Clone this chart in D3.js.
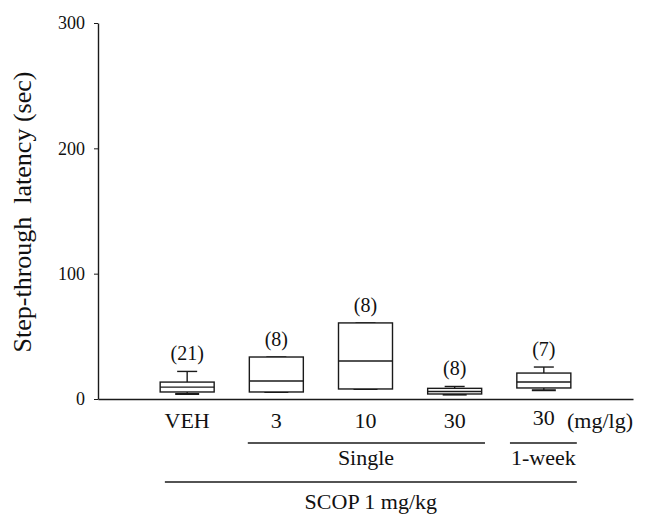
<!DOCTYPE html>
<html lang='en'>
<head>
  <meta charset='UTF-8'>
  <title>Step-through latency</title>
  <script src='https://cdn.jsdelivr.net/npm/d3@7'></script>
  <style>
    * { margin: 0; padding: 0; }
    body { background: #fff; }
    text { font-family: 'Liberation Serif', 'DejaVu Serif', serif; fill: #111; }
  </style>
</head>
<body>
<div id='chart'></div>
<script>
  // groups along the x axis
  const groups = ['VEH', '3', '10', '30', '30']
  const counts = ['(21)', '(8)', '(8)', '(8)', '(7)']
  // box statistics (sec)
  const mins    = [4,    5.6,  8,    3.5,  7]
  const q1s     = [5.6,  5.6,  8,    4,    8.8]
  const medians = [9.5,  14.4, 30.3, 6,    13.6]
  const q3s     = [13.5, 33.5, 60.7, 8.5,  20.7]
  const maxs    = [22,   33.5, 60.7, 10,   25.5]
  const yTicks = [0, 100, 200, 300]

  const W = 651, H = 516
  const svg = d3.select('#chart').append('svg')
    .attr('width', W).attr('height', H)

  const x = d3.scaleLinear().domain([0, 6]).range([98, 633])
  const y = d3.scaleLinear().domain([0, 300]).range([399, 23])

  // axes
  const yAxis = svg.append('g')
    .attr('transform', 'translate(' + x(0) + ',0)')
    .call(d3.axisLeft(y).tickValues(yTicks).tickSize(4).tickSizeOuter(0).tickPadding(9))
  yAxis.selectAll('text').style('font-size', '18px').style('fill', '#111')
  yAxis.select('.domain').attr('stroke', '#1a1a1a').attr('stroke-width', 1.4)
  yAxis.selectAll('line').attr('stroke', '#1a1a1a')

  const xAxis = svg.append('g')
    .attr('transform', 'translate(0,' + y(0) + ')')
    .call(d3.axisBottom(x).tickValues([]).tickSizeOuter(0))
  xAxis.select('.domain').attr('stroke', '#1a1a1a').attr('stroke-width', 1.4)

  svg.append('text')
    .attr('transform', 'translate(31,212) rotate(-90)')
    .attr('text-anchor', 'middle')
    .attr('xml:space', 'preserve')
    .style('white-space', 'pre')
    .style('font-size', '26px')
    .text('Step-through  latency (sec)')

  // boxes
  const bw = 54, cw = 20
  const data = groups.map((g, i) => ({
    g, n: counts[i], pos: i + 1,
    min: mins[i], q1: q1s[i], med: medians[i], q3: q3s[i], max: maxs[i]
  }))
  const box = svg.append('g').selectAll('g').data(data).join('g')
    .attr('stroke', '#1a1a1a').attr('stroke-width', 1.4).attr('fill', 'none')

  box.append('line')
    .attr('x1', d => x(d.pos)).attr('x2', d => x(d.pos))
    .attr('y1', d => y(d.q3)).attr('y2', d => y(d.max))
  box.append('line')
    .attr('x1', d => x(d.pos) - cw / 2).attr('x2', d => x(d.pos) + cw / 2)
    .attr('y1', d => y(d.max)).attr('y2', d => y(d.max))
  box.append('line')
    .attr('x1', d => x(d.pos)).attr('x2', d => x(d.pos))
    .attr('y1', d => y(d.q1)).attr('y2', d => y(d.min))
  box.append('line')
    .attr('x1', d => x(d.pos) - cw / 2 - 2).attr('x2', d => x(d.pos) + cw / 2 + 2)
    .attr('y1', d => y(d.min)).attr('y2', d => y(d.min))
    .attr('stroke-width', 2)
  box.append('rect')
    .attr('x', d => x(d.pos) - bw / 2).attr('width', bw)
    .attr('y', d => y(d.q3)).attr('height', d => y(d.q1) - y(d.q3))
    .attr('fill', '#fff')
  box.append('line')
    .attr('x1', d => x(d.pos) - bw / 2).attr('x2', d => x(d.pos) + bw / 2)
    .attr('y1', d => y(d.med)).attr('y2', d => y(d.med))

  // n labels
  svg.append('g').selectAll('text').data(data).join('text')
    .attr('x', d => x(d.pos)).attr('y', d => y(d.max) - 11)
    .attr('text-anchor', 'middle')
    .style('font-size', '20px')
    .text(d => d.n)

  // x labels
  svg.append('g').selectAll('text').data(data).join('text')
    .attr('x', d => x(d.pos)).attr('y', (d, i) => i === 4 ? 425 : 428)
    .attr('text-anchor', 'middle')
    .style('font-size', '22px')
    .text(d => d.g)
  svg.append('text').attr('x', 567).attr('y', 428)
    .style('font-size', '22px').text('(mg/lg)')

  // group brackets
  const brackets = [
    {label: 'Single', x1: 1.68, x2: 4.34, y: 443, ty: 465},
    {label: '1-week', x1: 4.62, x2: 5.37, y: 443, ty: 465},
    {label: 'SCOP 1 mg/kg', x1: 0.75, x2: 5.37, y: 482, ty: 509}
  ]
  const br = svg.append('g').selectAll('g').data(brackets).join('g')
  br.append('line')
    .attr('x1', d => x(d.x1)).attr('x2', d => x(d.x2))
    .attr('y1', d => d.y).attr('y2', d => d.y)
    .attr('stroke', '#1a1a1a').attr('stroke-width', 1.3)
  br.append('text')
    .attr('x', d => d.label === 'Single' ? 366 : (x(d.x1) + x(d.x2)) / 2)
    .attr('y', d => d.ty)
    .attr('text-anchor', 'middle')
    .style('font-size', '22px')
    .text(d => d.label)
</script>
</body>
</html>
